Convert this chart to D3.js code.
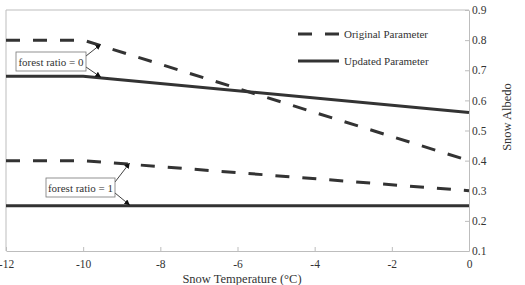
<!DOCTYPE html>
<html><head><meta charset="utf-8">
<script src="https://cdn.jsdelivr.net/npm/d3@7"></script>
<style>
body{margin:0;background:#fff;}
svg text{font-family:"Liberation Serif","Times New Roman",serif !important;fill:#333;}
</style></head>
<body><svg id="c" width="525" height="285" font-family="Liberation Serif"></svg>
<script>
// Data
const temps = [-12, -10, 0];
const origForest0 = [0.8, 0.8, 0.4];
const updForest0 = [0.68, 0.68, 0.56];
const origForest1 = [0.4, 0.4, 0.3];
const updForest1 = [0.25, 0.25, 0.25];
const xTicks = [-12, -10, -8, -6, -4, -2, 0];
const yTicks = [0.1, 0.2, 0.3, 0.4, 0.5, 0.6, 0.7, 0.8, 0.9];
const legendLabels = ["Original Parameter", "Updated Parameter"];
const annotations = [
  {label: "forest ratio = 0", targetT: -9.55, series: [origForest0, updForest0]},
  {label: "forest ratio = 1", targetT: -8.8, series: [origForest1, updForest1]}
];

const svg = d3.select("#c");
const FS = 11, TFS = 12.5;
const L = 6, R = 469, T = 10, B = 251;
const x = d3.scaleLinear().domain([-12, 0]).range([L, R]);
const y = d3.scaleLinear().domain([0.1, 0.9]).range([B, T]);
const axisCol = "#bdbdbd", lineCol = "#333";

// frame (top & left)
svg.append("line").attr("x1", L).attr("x2", R).attr("y1", T).attr("y2", T).attr("stroke", axisCol);
svg.append("line").attr("x1", L).attr("x2", L).attr("y1", T).attr("y2", B).attr("stroke", axisCol);

// x axis
const gx = svg.append("g").attr("transform", `translate(0,${B})`)
  .call(d3.axisBottom(x).tickValues(xTicks).tickSizeInner(-4).tickSizeOuter(0).tickPadding(9).tickFormat(d => String(d)));
gx.attr("font-family", null).attr("font-size", 11.5);
gx.select(".domain").attr("stroke", axisCol);
gx.selectAll(".tick line").attr("stroke", axisCol);
gx.selectAll("text").attr("fill", "#333");

// y axis (right)
const gy = svg.append("g").attr("transform", `translate(${R},0)`)
  .call(d3.axisRight(y).tickValues(yTicks).tickSizeInner(-4).tickSizeOuter(0).tickPadding(3).tickFormat(d3.format(".1f")));
gy.attr("font-family", null).attr("font-size", 11.5);
gy.select(".domain").attr("stroke", axisCol);
gy.selectAll(".tick line").attr("stroke", axisCol);
gy.selectAll("text").attr("fill", "#333");

// axis titles
svg.append("text").attr("x", 242).attr("y", 283).attr("text-anchor", "middle").attr("font-size", TFS).text("Snow Temperature (°C)");
svg.append("text").attr("transform", "translate(511,117) rotate(-90)").attr("text-anchor", "middle").attr("font-size", TFS).text("Snow Albedo");

// lines
const line = d3.line().x((d, i) => x(temps[i])).y(d => y(d));
const seriesList = [
  {v: origForest0, dash: "14,13"},
  {v: updForest0, dash: null},
  {v: origForest1, dash: "14,13"},
  {v: updForest1, dash: null}
];
seriesList.forEach(s => {
  svg.append("path").attr("d", line(s.v)).attr("fill", "none").attr("stroke", lineCol)
    .attr("stroke-width", 3).attr("stroke-dasharray", s.dash);
});

// legend
const lg = [{dash: "14,13", y: 34}, {dash: null, y: 61}];
lg.forEach((d, i) => {
  svg.append("line").attr("x1", 298).attr("x2", 339).attr("y1", d.y).attr("y2", d.y)
    .attr("stroke", lineCol).attr("stroke-width", 3).attr("stroke-dasharray", d.dash);
  svg.append("text").attr("x", 344).attr("y", d.y + 4).attr("font-size", FS).text(legendLabels[i]);
});

// annotations
const defs = svg.append("defs");
defs.append("marker").attr("id", "ah").attr("viewBox", "0 0 10 10").attr("refX", 9).attr("refY", 5)
  .attr("markerWidth", 7).attr("markerHeight", 7).attr("orient", "auto")
  .append("path").attr("d", "M0,0L10,5L0,10Z").attr("fill", "#111");
const boxes = [{x: 16, y: 52, w: 70, h: 19}, {x: 46, y: 178, w: 69, h: 19}];
annotations.forEach((a, i) => {
  const b = boxes[i];
  const tx = x(a.targetT);
  const at = (tt, arr) => d3.scaleLinear().domain(temps).range(arr)(tt);
  const ys = [y(at(a.targetT, a.series[0])) - 1, y(at(a.targetT, a.series[1])) - 1];
  svg.append("line").attr("x1", b.x + b.w).attr("y1", b.y + 4).attr("x2", tx).attr("y2", ys[0])
    .attr("stroke", "#111").attr("stroke-width", 0.8).attr("marker-end", "url(#ah)");
  svg.append("line").attr("x1", b.x + b.w).attr("y1", b.y + b.h - 4).attr("x2", tx).attr("y2", ys[1])
    .attr("stroke", "#111").attr("stroke-width", 0.8).attr("marker-end", "url(#ah)");
  svg.append("rect").attr("x", b.x).attr("y", b.y).attr("width", b.w).attr("height", b.h)
    .attr("fill", "#fff").attr("stroke", "#777").attr("stroke-width", 0.8);
  svg.append("text").attr("x", b.x + b.w / 2).attr("y", b.y + 13.5).attr("text-anchor", "middle")
    .attr("font-size", FS).text(a.label);
});
</script></body></html>
